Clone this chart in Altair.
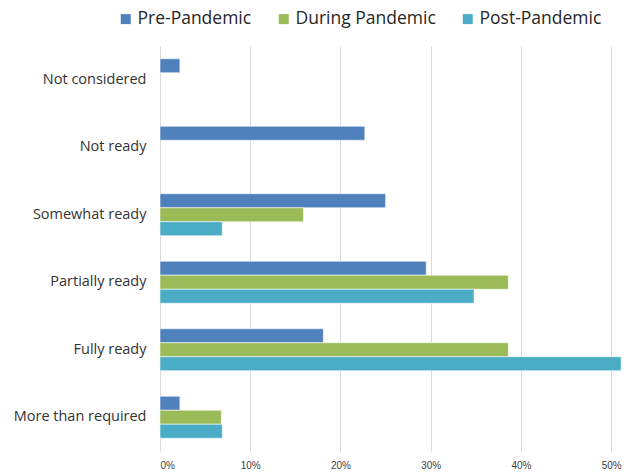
import altair as alt
import pandas as pd

categories = ["Not considered", "Not ready", "Somewhat ready",
              "Partially ready", "Fully ready", "More than required"]
series = ["Pre-Pandemic", "During Pandemic", "Post-Pandemic"]
colors = ["#4F81BD", "#9BBB59", "#4BACC6"]

pre_pandemic = [0.022, 0.227, 0.250, 0.295, 0.181, 0.022]
during_pandemic = [None, None, 0.159, 0.386, 0.386, 0.068]
post_pandemic = [None, None, 0.069, 0.348, 0.511, 0.069]

rows = []
for s, vals in zip(series, [pre_pandemic, during_pandemic, post_pandemic]):
    for c, v in zip(categories, vals):
        if v is not None:
            rows.append({"category": c, "series": s, "value": v})
df = pd.DataFrame(rows)

font = "Open Sans"

chart = alt.Chart(df).mark_bar(
    stroke="white", strokeOpacity=0.55, strokeWidth=1
).encode(
    y=alt.Y("category:N", sort=categories, title=None,
            scale=alt.Scale(paddingInner=0.378, paddingOuter=0.189),
            axis=alt.Axis(ticks=False, domain=False, labelFontSize=14.5,
                          labelColor="#333333", labelFont=font,
                          labelPadding=14, grid=False)),
    yOffset=alt.YOffset("series:N", sort=series,
                        scale=alt.Scale(paddingInner=0, paddingOuter=0)),
    x=alt.X("value:Q", title=None,
            scale=alt.Scale(domain=[0, 0.512], nice=False, zero=True),
            axis=alt.Axis(values=[0, 0.1, 0.2, 0.3, 0.4, 0.5], format=".0%",
                          ticks=False, domain=False, labelFontSize=10,
                          labelColor="#404040", labelPadding=9,
                          gridColor="#d9d9d9", gridWidth=1,
                          labelFont="Liberation Sans")),
    color=alt.Color("series:N", sort=series,
                    scale=alt.Scale(domain=series, range=colors),
                    legend=alt.Legend(title=None, orient="none",
                                      direction="horizontal",
                                      legendX=-43, legendY=-36,
                                      symbolType="square", symbolSize=100,
                                      symbolStrokeWidth=0,
                                      labelFontSize=17.5, labelFont=font,
                                      labelColor="#262626",
                                      columnPadding=23, labelOffset=3)),
).properties(
    width=462, height=405,
    autosize=alt.AutoSizeParams(type="none"),
    padding={"left": 160, "top": 46, "right": 15, "bottom": 24},
).configure_view(stroke=None)

chart.save("out.html", embed_options={"renderer": "svg", "actions": False})
